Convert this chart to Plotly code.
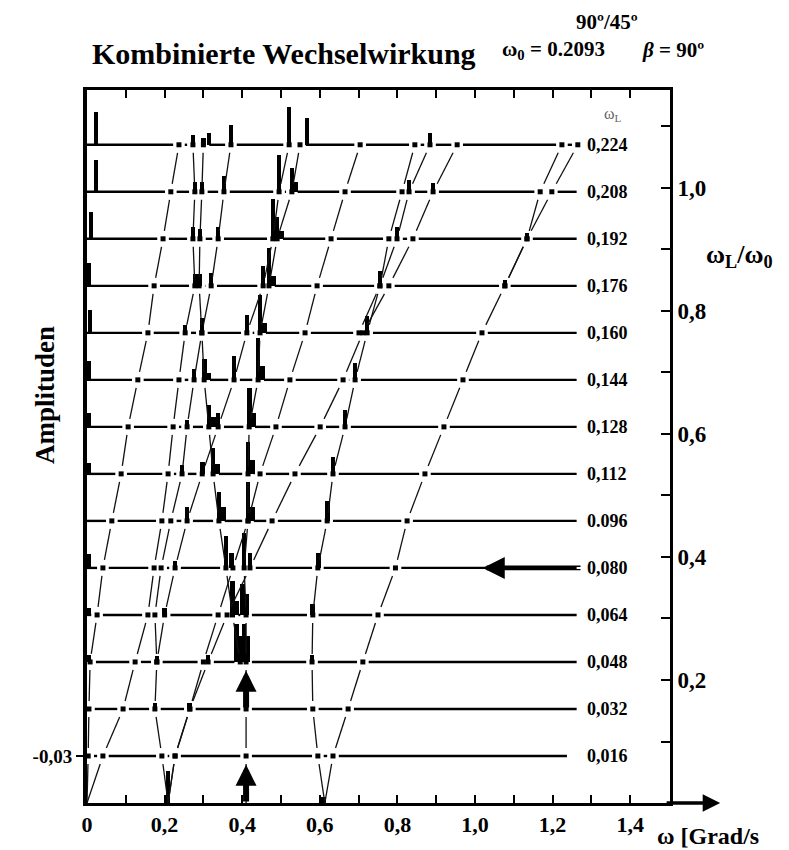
import plotly.graph_objects as go

# ---------------- data ----------------
OMEGA_0 = 0.2093
OMEGA_L = [0.016, 0.032, 0.048, 0.064, 0.080, 0.096, 0.112,
           0.128, 0.144, 0.160, 0.176, 0.192, 0.208, 0.224]
OMEGA_L_LABELS = ["0,016", "0,032", "0,048", "0,064", "0,080", "0.096", "0,112",
                  "0,128", "0,144", "0,160", "0,176", "0,192", "0,208", "0,224"]

X_TICKS = [0.0, 0.2, 0.4, 0.6, 0.8, 1.0, 1.2, 1.4]
X_TICK_TEXT = ["0", "0,2", "0,4", "0,6", "0,8", "1,0", "1,2", "1,4"]
X_MINOR_TICKS = [0.1, 0.3, 0.5, 0.7, 0.9, 1.1, 1.3]
Y_TICKS = [0.2, 0.4, 0.6, 0.8, 1.0]
Y_TICK_TEXT = ["0,2", "0,4", "0,6", "0,8", "1,0"]
Y_MINOR_TICKS = [0.1, 0.3, 0.5, 0.7, 0.9, 1.1]

# frequency branches: omega at wL = 0 and at each of the 14 levels
curve_L0 = [0.000, 0.003, 0.005, 0.008, 0.026, 0.041, 0.064, 0.088, 0.106, 0.131, 0.157, 0.173, 0.196, 0.216, 0.237]
curve_L1 = [0.000, 0.041, 0.093, 0.124, 0.157, 0.173, 0.193, 0.209, 0.222, 0.237, 0.253, 0.278, 0.273, 0.278, 0.273]
curve_V2L = [0.209, 0.193, 0.175, 0.180, 0.175, 0.191, 0.216, 0.245, 0.258, 0.276, 0.296, 0.289, 0.291, 0.296, 0.300]
curve_P = [0.209, 0.227, 0.265, 0.300, 0.338, 0.376, 0.415, 0.446, 0.487, 0.523, 0.562, 0.593, 0.629, 0.665, 0.704]
curve_P2 = [0.209, 0.227, 0.265, 0.312, 0.361, 0.420, 0.477, 0.536, 0.601, 0.660, 0.711, 0.778, 0.840, 0.892, 0.954]
curve_M = [0.410, 0.410, 0.410, 0.410, 0.410, 0.405, 0.415, 0.415, 0.418, 0.441, 0.446, 0.469, 0.490, 0.528, 0.549]
curve_N = [None, None, None, 0.395, 0.375, 0.358, 0.340, 0.325, 0.314, 0.302, 0.296, 0.320, 0.338, 0.353, 0.371]
curve_T = [None, None, None, 0.180, 0.200, 0.227, 0.258, 0.297, 0.338, 0.379, 0.412, 0.454, 0.479, 0.495, 0.521]
curve_Q = [0.613, 0.595, 0.582, 0.580, 0.582, 0.595, 0.619, 0.634, 0.665, 0.691, 0.722, 0.755, 0.799, 0.830, 0.884]
curve_Q1 = [None, None, None, None, None, None, None, None, None, None, 0.701, 0.755, 0.778, 0.812, 0.845]
curve_R = [0.613, 0.634, 0.673, 0.711, 0.750, 0.795, 0.825, 0.871, 0.920, 0.969, 1.018, 1.077, 1.134, 1.168, 1.224]
curve_R2 = [None, None, None, None, None, None, None, None, None, None, None, 1.077, 1.134, 1.198, 1.265]

# amplitude bars (omega, amplitude as fraction of level spacing)
bars_000 = [(0.209, 0.68), (0.610, 0.12)]
bars_032 = [(0.175, 0.12), (0.265, 0.12)]
bars_048 = [(0.005, 0.15), (0.180, 0.13), (0.312, 0.15), (0.385, 0.80), (0.395, 0.55), (0.405, 0.80), (0.415, 0.55), (0.580, 0.15)]
bars_064 = [(0.005, 0.15), (0.200, 0.15), (0.375, 0.72), (0.387, 0.30), (0.400, 0.66), (0.412, 0.45), (0.582, 0.23)]
bars_080 = [(0.005, 0.30), (0.227, 0.15), (0.358, 0.68), (0.372, 0.32), (0.405, 0.75), (0.420, 0.32), (0.596, 0.32)]
bars_096 = [(0.258, 0.30), (0.340, 0.62), (0.352, 0.30), (0.415, 0.83), (0.427, 0.30), (0.619, 0.43)]
bars_112 = [(0.005, 0.23), (0.245, 0.19), (0.297, 0.26), (0.325, 0.55), (0.337, 0.20), (0.415, 0.68), (0.427, 0.30), (0.634, 0.36)]
bars_128 = [(0.005, 0.30), (0.258, 0.15), (0.314, 0.47), (0.326, 0.20), (0.338, 0.30), (0.418, 0.83), (0.430, 0.30), (0.665, 0.36)]
bars_144 = [(0.005, 0.40), (0.276, 0.23), (0.302, 0.45), (0.314, 0.15), (0.379, 0.51), (0.441, 0.89), (0.453, 0.30), (0.691, 0.36)]
bars_160 = [(0.008, 0.49), (0.253, 0.17), (0.296, 0.32), (0.412, 0.38), (0.446, 0.80), (0.458, 0.21), (0.722, 0.36)]
bars_176 = [(0.005, 0.49), (0.278, 0.25), (0.290, 0.25), (0.320, 0.28), (0.454, 0.43), (0.469, 0.81), (0.480, 0.21), (0.755, 0.32), (1.077, 0.12)]
bars_192 = [(0.010, 0.57), (0.273, 0.25), (0.291, 0.20), (0.338, 0.26), (0.479, 0.85), (0.490, 0.47), (0.501, 0.17), (0.799, 0.25), (1.134, 0.12)]
bars_208 = [(0.023, 0.68), (0.278, 0.20), (0.296, 0.20), (0.353, 0.34), (0.495, 0.79), (0.528, 0.51), (0.538, 0.20), (0.830, 0.25), (0.892, 0.18)]
bars_224 = [(0.023, 0.70), (0.273, 0.20), (0.300, 0.15), (0.314, 0.25), (0.371, 0.43), (0.521, 0.81), (0.567, 0.57), (0.884, 0.25)]

# ---------------- build ----------------
CURVES = [curve_L0, curve_L1, curve_V2L, curve_P, curve_P2, curve_M, curve_N,
          curve_T, curve_Q, curve_Q1, curve_R, curve_R2]
BARS = {0: bars_000, 2: bars_032, 3: bars_048, 4: bars_064, 5: bars_080, 6: bars_096,
        7: bars_112, 8: bars_128, 9: bars_144, 10: bars_160, 11: bars_176,
        12: bars_192, 13: bars_208, 14: bars_224}

levels = [0.0] + [w / OMEGA_0 for w in OMEGA_L]
spacing = levels[1]
X_MAX = 1.5026
Y_MAX = 1.1593
FONT = "Liberation Serif"
LINE_END = 1.262
GAP = 0.015
PAGE_OFFSET = 8  # default body margin of the html page

fig = go.Figure()

# horizontal level lines with small gaps at the crossings
hx, hy = [], []
for i in range(1, 15):
    lv = levels[i]
    xs = sorted(c[i] for c in CURVES if c[i] is not None)
    start = 0.0
    end = 1.237 if i == 1 else LINE_END
    for xc in xs:
        if xc - GAP > start:
            hx += [start, xc - GAP, None]
            hy += [lv, lv, None]
        start = max(start, xc + GAP)
    if end > start:
        hx += [start, end, None]
        hy += [lv, lv, None]
fig.add_trace(go.Scatter(x=hx, y=hy, mode="lines", line=dict(color="black", width=2.4),
                         hoverinfo="skip"))

# dashed branch lines between levels
sx, sy, mx, my = [], [], [], []
for c in CURVES:
    for i in range(14):
        a, b = c[i], c[i + 1]
        if a is None or b is None:
            continue
        y0, y1 = levels[i], levels[i + 1]
        t0 = 0.0 if i == 0 else 0.17
        t1 = 0.83
        sx += [a + (b - a) * t0, a + (b - a) * t1, None]
        sy += [y0 + (y1 - y0) * t0, y0 + (y1 - y0) * t1, None]
    for i in range(1, 15):
        if c[i] is not None:
            mx.append(c[i])
            my.append(levels[i])
fig.add_trace(go.Scatter(x=sx, y=sy, mode="lines", line=dict(color="#111", width=1.3),
                         hoverinfo="skip"))
fig.add_trace(go.Scatter(x=mx, y=my, mode="markers",
                         marker=dict(symbol="square", size=5, color="black"), hoverinfo="skip"))

# amplitude bars
bx, bh, bb = [], [], []
for i, lst in BARS.items():
    for w, a in lst:
        bx.append(w)
        bh.append(a * spacing)
        bb.append(levels[i])
fig.add_trace(go.Bar(x=bx, y=bh, base=bb, width=0.012, marker=dict(color="black", line=dict(width=0)),
                     hoverinfo="skip"))

# double line of the arrow on the 0,080 level
dl = 0.0028
for off in (-dl, dl):
    fig.add_trace(go.Scatter(x=[1.03, 1.272], y=[levels[5] + off, levels[5] + off], mode="lines",
                             line=dict(color="black", width=1.4), hoverinfo="skip"))

# dummy trace for left axis
fig.add_trace(go.Scatter(x=[None], y=[None], yaxis="y2", mode="markers", hoverinfo="skip"))

ann = []
# level labels
for i, lab in enumerate(OMEGA_L_LABELS):
    ann.append(dict(x=1.283, y=levels[i + 1], xref="x", yref="y", text="<b>" + lab + "</b>",
                    showarrow=False, xanchor="left", yanchor="middle",
                    font=dict(family=FONT, size=18, color="black")))
ann.append(dict(x=1.356, y=1.119, xref="x", yref="y", text="ω<sub>L</sub>", showarrow=False,
                xanchor="center", yanchor="middle", font=dict(family=FONT, size=16, color="#666")))

# arrows at omega = 0.41
arrow_len = 0.062
for base in (0.0, levels[2]):
    ann.append(dict(x=0.41, y=base + arrow_len, ax=0.41, ay=base, xref="x", yref="y",
                    axref="x", ayref="y", showarrow=True, arrowhead=2, arrowsize=0.7,
                    arrowwidth=6, arrowcolor="black", text=""))
# arrow head on 0,080
ann.append(dict(x=1.02, y=levels[5], ax=1.06, ay=levels[5], xref="x", yref="y",
                axref="x", ayref="y", showarrow=True, arrowhead=2, arrowsize=2.2,
                arrowwidth=2, arrowcolor="black", text=""))
# x-axis extension arrow
ann.append(dict(x=1.632, y=0, ax=1.49, ay=0, xref="x", yref="y", axref="x", ayref="y",
                showarrow=True, arrowhead=2, arrowsize=1.0, arrowwidth=3.5, arrowcolor="black", text=""))


def px(xp):
    return (xp - 87) / 583.0


def py(yp):
    return (803 - yp) / 713.0


ann += [
    dict(x=px(90), y=py(54), xref="paper", yref="paper", xanchor="left", yanchor="middle",
         text="<b>Kombinierte Wechselwirkung</b>", showarrow=False,
         font=dict(family=FONT, size=30, color="black")),
    dict(x=px(607), y=py(22), xref="paper", yref="paper", xanchor="center", yanchor="middle",
         text="<b>90º/45º</b>", showarrow=False, font=dict(family=FONT, size=21, color="black")),
    dict(x=px(500), y=py(50), xref="paper", yref="paper", xanchor="left", yanchor="middle",
         text="<b>ω<sub>0</sub> = 0.2093</b>", showarrow=False, font=dict(family=FONT, size=21, color="black")),
    dict(x=px(640), y=py(50), xref="paper", yref="paper", xanchor="left", yanchor="middle",
         text="<b><i>β</i> = 90º</b>", showarrow=False, font=dict(family=FONT, size=21, color="black")),
    dict(x=px(704), y=py(256), xref="paper", yref="paper", xanchor="left", yanchor="middle",
         text="<b>ω<sub>L</sub>/ω<sub>0</sub></b>", showarrow=False, font=dict(family=FONT, size=26, color="black")),
    dict(x=px(45), y=py(395), xref="paper", yref="paper", xanchor="center", yanchor="middle",
         text="<b>Amplituden</b>", textangle=-90, showarrow=False, font=dict(family=FONT, size=27, color="black")),
    dict(x=px(655), y=py(836), xref="paper", yref="paper", xanchor="left", yanchor="middle",
         text="<b>ω [Grad/s</b>", showarrow=False, font=dict(family=FONT, size=24, color="black")),
]

tick_style = dict(ticklen=8, tickwidth=2, tickcolor="black")

fig.update_layout(
    width=789 - PAGE_OFFSET, height=850 - PAGE_OFFSET,
    margin=dict(l=87 - PAGE_OFFSET, r=119, t=90 - PAGE_OFFSET, b=47),
    plot_bgcolor="white", paper_bgcolor="white",
    showlegend=False, barmode="overlay", bargap=0,
    annotations=ann,
    xaxis=dict(range=[0, X_MAX], tickvals=X_TICKS, ticktext=["<b>" + t + "</b>" for t in X_TICK_TEXT],
               ticks="inside", **tick_style,
               minor=dict(tickvals=X_MINOR_TICKS, ticks="inside", showgrid=False, **tick_style),
               showline=True, linewidth=3, linecolor="black", mirror="ticks",
               showgrid=False, zeroline=False,
               tickfont=dict(family=FONT, size=22, color="black")),
    yaxis=dict(range=[0, Y_MAX], side="right", tickvals=Y_TICKS,
               ticktext=["<b>" + t + "</b>" for t in Y_TICK_TEXT],
               ticks="inside", ticklen=9, tickwidth=2, tickcolor="black",
               minor=dict(tickvals=Y_MINOR_TICKS, ticks="inside", ticklen=9, tickwidth=2,
                          tickcolor="black", showgrid=False),
               showline=True, linewidth=3, linecolor="black",
               showgrid=False, zeroline=False,
               tickfont=dict(family=FONT, size=23, color="black")),
    yaxis2=dict(range=[0, Y_MAX], overlaying="y", side="left", tickvals=[levels[1]],
                ticktext=["<b>-0,03</b>"], ticks="outside", ticklen=7, tickwidth=2, tickcolor="black",
                showline=True, linewidth=4, linecolor="black", showgrid=False, zeroline=False,
                tickfont=dict(family=FONT, size=19, color="black")),
)

fig.write_html("out.html")
